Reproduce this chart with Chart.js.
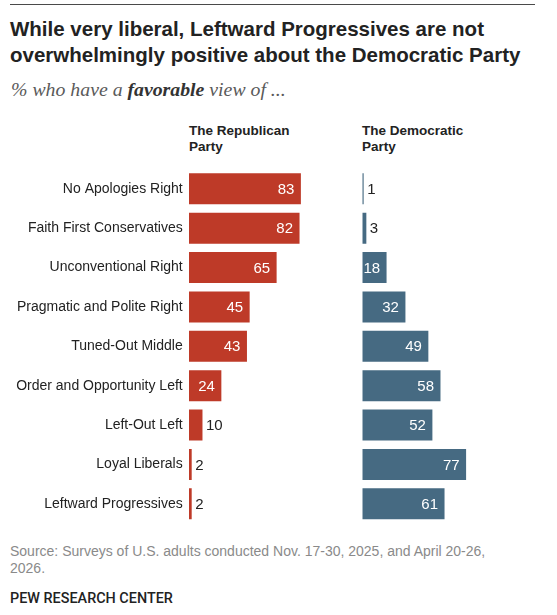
<!DOCTYPE html>
<html>
<head>
<meta charset="utf-8">
<script src="https://cdn.jsdelivr.net/npm/chart.js@4.4.0/dist/chart.umd.min.js"></script>
<style>
  html, body { margin: 0; padding: 0; background: #fff; }
  #wrap { position: relative; width: 557px; height: 615px; overflow: hidden; background: #fff; }
  .abs { position: absolute; white-space: nowrap; }
  #rule { position: absolute; left: 10px; top: 4px; width: 525px; height: 1px; background: #4a4a4a; }
  #title { left: 10px; top: 16px; font: bold 20.5px/26px "Liberation Sans", Arial, sans-serif; color: #222; }
  #sub { left: 11px; top: 77px; font: italic 19.8px/24px "Liberation Serif", serif; color: #5a5a5a; }
  #sub b { color: #333; }
  .hdr { top: 123px; font: bold 13.5px/16px "Liberation Sans", Arial, sans-serif; color: #222; }
  #src { left: 10px; top: 543px; font: 14px/17px "Liberation Sans", Arial, sans-serif; color: #8a8a8a; }
  #pew { left: 10px; top: 590px; font: 500 14.4px/17px Roboto, "Liberation Sans", sans-serif; color: #222; }
  canvas { position: absolute; }
</style>
</head>
<body>
<div id="wrap">
  <div id="rule"></div>
  <div id="title" class="abs">While very liberal, Leftward Progressives are not<br>overwhelmingly positive about the Democratic Party</div>
  <div id="sub" class="abs">% who have a <b>favorable</b> view of ...</div>
  <div class="abs hdr" style="left:189px">The Republican<br>Party</div>
  <div class="abs hdr" style="left:362px">The Democratic<br>Party</div>
  <canvas id="cL" width="345" height="380" style="left:0px; top:160px; width:345px; height:380px"></canvas>
  <canvas id="cR" width="212" height="380" style="left:345px; top:160px; width:212px; height:380px"></canvas>
  <div id="src" class="abs">Source: Surveys of U.S. adults conducted Nov. 17-30, 2025, and April 20-26,<br>2026.</div>
  <div id="pew" class="abs">PEW RESEARCH CENTER</div>
</div>
<script>
const categories = [
  "No Apologies Right",
  "Faith First Conservatives",
  "Unconventional Right",
  "Pragmatic and Polite Right",
  "Tuned-Out Middle",
  "Order and Opportunity Left",
  "Left-Out Left",
  "Loyal Liberals",
  "Leftward Progressives"
];
const republicanValues = [83, 82, 65, 45, 43, 24, 10, 2, 2];
const democraticValues = [1, 3, 18, 32, 49, 58, 52, 77, 61];

const RED = "#BE3A28";
const BLUE = "#466A82";

function valueLabels(values) {
  return {
    id: "valueLabels",
    afterDatasetsDraw(chart) {
      const ctx = chart.ctx;
      const meta = chart.getDatasetMeta(0);
      ctx.save();
      ctx.font = '15px "Liberation Sans", Arial, sans-serif';
      ctx.textBaseline = "middle";
      meta.data.forEach((bar, i) => {
        const v = values[i];
        const txt = String(v);
        if (v >= 15) {
          ctx.fillStyle = "#ffffff";
          ctx.textAlign = "right";
          ctx.fillText(txt, bar.x - 6.5, bar.y + 1);
        } else {
          ctx.fillStyle = "#222222";
          ctx.textAlign = "left";
          ctx.fillText(txt, bar.x + 3.5, bar.y + 1);
        }
      });
      ctx.restore();
    }
  };
}

function makeChart(id, values, color, showLabels, padding) {
  return new Chart(document.getElementById(id), {
    type: "bar",
    data: {
      labels: categories,
      datasets: [{
        data: values,
        backgroundColor: color,
        borderWidth: 0,
        barPercentage: 0.787,
        categoryPercentage: 1.0
      }]
    },
    options: {
      indexAxis: "y",
      responsive: false,
      animation: false,
      events: [],
      layout: { padding: padding },
      plugins: { legend: { display: false }, tooltip: { enabled: false } },
      scales: {
        x: { display: false, min: 0, max: 100 },
        y: {
          display: showLabels,
          grid: { display: false, drawTicks: false },
          border: { display: false },
          ticks: {
            padding: 6.3,
            color: "#222",
            font: { family: '"Liberation Sans", Arial, sans-serif', size: 14 }
          },
          afterFit(scale) {
            if (showLabels) {
              scale.width = 189;
              scale.paddingTop = 0;
              scale.paddingBottom = 0;
            }
          }
        }
      }
    },
    plugins: [valueLabels(values)]
  });
}

makeChart("cL", republicanValues, RED, true, { left: 0, right: 21.2, top: 9.1, bottom: 16.5 });
makeChart("cR", democraticValues, BLUE, false, { left: 17.3, right: 59.9, top: 9.1, bottom: 16.5 });
</script>
</body>
</html>
